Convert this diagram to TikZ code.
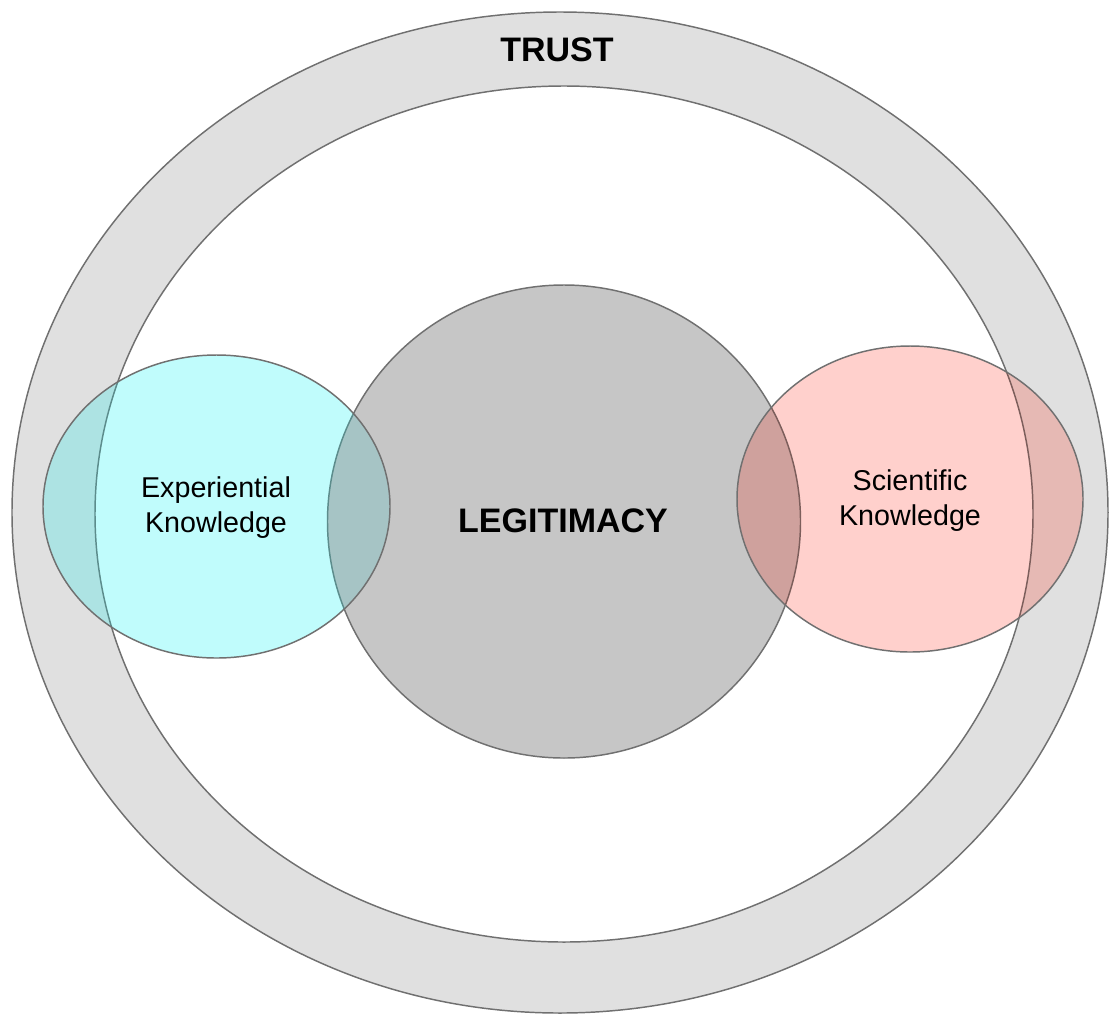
\documentclass[tikz,border=0pt]{standalone}
\usepackage{fontspec}
\setmainfont{Liberation Sans}
\definecolor{ringgray}{HTML}{E0E0E0}
\definecolor{centergray}{HTML}{C6C6C6}
\definecolor{cyanfill}{HTML}{C0FCFC}
\definecolor{cyanring}{HTML}{ADE3E3}
\definecolor{cyangray}{HTML}{A6C4C5}
\definecolor{cyanedge}{HTML}{5C8C8C}
\definecolor{pinkfill}{HTML}{FFD0CC}
\definecolor{pinkring}{HTML}{E6B9B4}
\definecolor{pinkgray}{HTML}{CFA19D}
\definecolor{pinkedge}{HTML}{7C5E5B}
\definecolor{edgegray}{HTML}{707070}
\begin{document}
\begin{tikzpicture}[x=0.75pt,y=-0.75pt,
  edge/.style={draw=edgegray,line width=1.1pt},
  smalllabel/.style={align=center,font=\fontsize{21.5}{26.3}\selectfont},
  biglabel/.style={font=\fontsize{25.5}{30}\selectfont\bfseries}]
\useasboundingbox (0,0) rectangle (1109,1015);
\def\outerE{(560,512.5) ellipse [x radius=548,y radius=500.5]}
\def\innerE{(564,514) ellipse [x radius=469,y radius=428]}
\def\centerC{(564,521.5) circle [radius=236.5]}
\def\cyanE{(216.5,506.5) ellipse [x radius=173.5,y radius=151.5]}
\def\pinkE{(910,499) ellipse [x radius=173,y radius=153]}
% trust ring
\path[edge,fill=ringgray] \outerE;
\path[edge,fill=white] \innerE;
% legitimacy
\path[edge,fill=centergray] \centerC;
% experiential knowledge with overlaps
\fill[cyanfill] \cyanE;
\begin{scope}
\clip \cyanE;
\fill[cyanring,even odd rule] \outerE \innerE;
\fill[cyangray] \centerC;
\draw[cyanedge,line width=1.1pt] \outerE;
\draw[cyanedge,line width=1.1pt] \innerE;
\draw[cyanedge,line width=1.1pt] \centerC;
\end{scope}
\path[edge] \cyanE;
% scientific knowledge with overlaps
\fill[pinkfill] \pinkE;
\begin{scope}
\clip \pinkE;
\fill[pinkring,even odd rule] \outerE \innerE;
\fill[pinkgray] \centerC;
\draw[pinkedge,line width=1.1pt] \outerE;
\draw[pinkedge,line width=1.1pt] \innerE;
\draw[pinkedge,line width=1.1pt] \centerC;
\end{scope}
\path[edge] \pinkE;
\node[biglabel] (trust) at (557,50) {TRUST};
\node[biglabel] (legit) at (563,521) {LEGITIMACY};
\node[smalllabel] (exp) at (216,508) {Experiential\\Knowledge};
\node[smalllabel] (sci) at (910,501) {Scientific\\Knowledge};
\end{tikzpicture}
\end{document}
